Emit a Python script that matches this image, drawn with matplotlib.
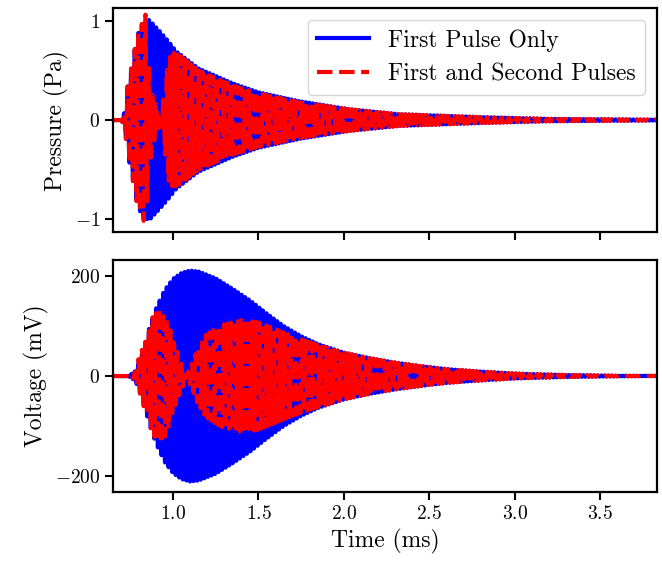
#!/usr/bin/env python3
"""Pressure and voltage response for one and two ultrasonic pulses."""

import matplotlib.pyplot as plt
import numpy as np

plt.rcParams["font.family"] = "serif"
plt.rcParams["font.serif"] = ["cmr10", "DejaVu Serif"]
plt.rcParams["mathtext.fontset"] = "cm"
plt.rcParams["axes.formatter.use_mathtext"] = True

# carrier of the transducer (kHz) and time base (ms)
CARRIER_KHZ = 48.0
T_START, T_END = 0.60, 3.90

# envelopes (time in ms)
p1_t = [0.60, 0.70, 0.72, 0.73, 0.76, 0.79, 0.82, 0.86, 0.92, 0.97, 1.02, 1.15,
        1.35, 1.50, 1.74, 2.03, 2.32, 2.80, 3.20, 3.90]
p1_amp = [0.0, 0.0, 0.10, 0.30, 0.56, 0.85, 0.97, 1.01, 0.90, 0.80, 0.69, 0.52,
          0.37, 0.28, 0.19, 0.11, 0.06, 0.03, 0.012, 0.003]

p2_t = [0.60, 0.70, 0.72, 0.73, 0.76, 0.79, 0.82, 0.84, 0.86, 0.88, 0.91, 0.93,
        0.95, 0.97, 1.00, 1.05, 1.15, 1.35, 1.50, 1.74, 2.03, 2.32, 2.80, 3.20, 3.90]
p2_amp = [0.0, 0.0, 0.10, 0.30, 0.56, 0.85, 0.98, 1.07, 0.50, 0.25, 0.12, 0.03,
          0.30, 0.60, 0.68, 0.64, 0.50, 0.35, 0.27, 0.18, 0.11, 0.06, 0.03, 0.012, 0.003]

v1_t = [0.60, 0.74, 0.78, 0.82, 0.86, 0.90, 0.95, 1.00, 1.05, 1.10, 1.15, 1.25,
        1.35, 1.45, 1.55, 1.65, 1.75, 1.85, 2.00, 2.15, 2.30, 2.45, 2.60, 2.80,
        3.00, 3.30, 3.60, 3.90]
v1_amp = [0, 0, 10, 45, 95, 135, 172, 195, 207, 212, 210, 196,
          175, 152, 125, 100, 80, 64, 47, 36, 27, 20, 14, 9,
          5, 2, 0.5, 0]

v2_t = [0.60, 0.74, 0.78, 0.80, 0.85, 0.88, 0.93, 0.97, 1.00, 1.04, 1.08, 1.11,
        1.14, 1.19, 1.28, 1.40, 1.50, 1.60, 1.70, 1.80, 1.90, 2.00, 2.15, 2.30,
        2.45, 2.60, 2.80, 3.00, 3.30, 3.60, 3.90]
v2_amp = [0, 0, 8, 38, 78, 118, 137, 110, 72, 35, 2, 25,
          52, 82, 102, 112, 108, 94, 80, 68, 57, 47, 36, 27,
          20, 14, 9, 5, 2, 0.5, 0]

t = np.arange(T_START, T_END, 0.0004)
carrier = np.sin(2 * np.pi * CARRIER_KHZ * t)

p_first = np.interp(t, p1_t, p1_amp) * carrier
p_both = np.interp(t, p2_t, p2_amp) * carrier
v_first = np.interp(t, v1_t, v1_amp) * carrier
v_both = np.interp(t, v2_t, v2_amp) * carrier

fig = plt.figure(figsize=(6.62, 5.65), dpi=100)
ax1 = fig.add_axes([0.171, 0.589, 0.821, 0.397])
ax2 = fig.add_axes([0.171, 0.129, 0.821, 0.411], sharex=ax1)

ax1.plot(t, p_first, color="blue", lw=3, label="First Pulse Only")
ax1.plot(t, p_both, color="red", lw=3, ls="--", label="First and Second Pulses")
ax2.plot(t, v_first, color="blue", lw=3)
ax2.plot(t, v_both, color="red", lw=3, ls="--")

ax1.set_xlim(0.65, 3.83)
ax1.set_ylim(-1.13, 1.13)
ax1.set_yticks([-1, 0, 1])
ax2.set_ylim(-233, 233)
ax2.set_yticks([-200, 0, 200])
ax2.set_xticks([1.0, 1.5, 2.0, 2.5, 3.0, 3.5])
ax1.tick_params(labelbottom=False)

ax1.set_ylabel("Pressure (Pa)", fontsize=17)
ax2.set_ylabel("Voltage (mV)", fontsize=17)
ax2.set_xlabel("Time (ms)", fontsize=17)

for ax in (ax1, ax2):
    ax.tick_params(labelsize=14, width=1.5, length=6)
    for spine in ax.spines.values():
        spine.set_linewidth(1.6)

ax1.legend(loc="upper right", fontsize=17, handlelength=2.2)

fig.savefig("out.png", dpi=100)
plt.close(fig)
